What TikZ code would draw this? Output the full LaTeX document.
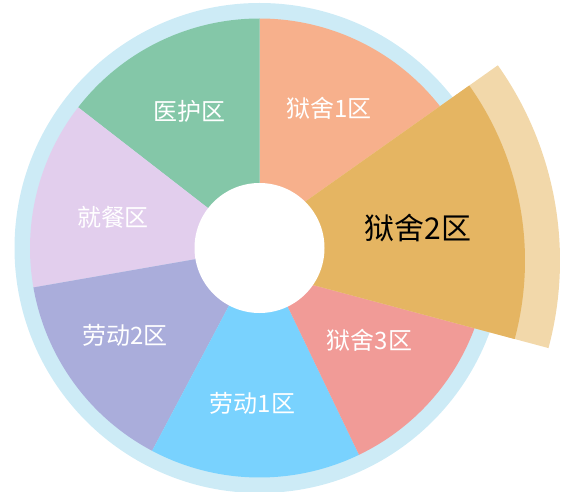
\documentclass[tikz,border=0pt]{standalone}
\usepackage{fontspec}
\newfontfamily\cjk{Noto Sans CJK SC}
\definecolor{ringc}{HTML}{CDEBF6}
\definecolor{cyh}{HTML}{84C7A8}
\definecolor{cys1}{HTML}{F7B08C}
\definecolor{cys2}{HTML}{E5B562}
\definecolor{cband}{HTML}{F2D8AA}
\definecolor{cys3}{HTML}{F19B97}
\definecolor{cld1}{HTML}{79D2FE}
\definecolor{cld2}{HTML}{AAADDB}
\definecolor{cjc}{HTML}{E2CEED}
\tikzset{
  lab/.style={font=\cjk\fontsize{24}{24}\selectfont, text=white, inner sep=0pt},
  hilab/.style={font=\cjk\fontsize{30}{30}\selectfont, text=black, inner sep=0pt}
}
\newcommand{\pieslice}[3]{\fill[#3] (C) -- ++(#1:229.5pt) arc[start angle=#1, end angle=#2, radius=229.5pt] -- cycle;}
\begin{document}
\begin{tikzpicture}[x=1pt,y=1pt]
\useasboundingbox (0,0) rectangle (571,491);
\coordinate (C) at (259.5,243);
\coordinate (A) at (222,230.4);
% background ring
\fill[ringc] (C) circle[radius=245pt];
% slices
\pieslice{37.1}{90}{cys1}
\pieslice{90}{142.2}{cyh}
\pieslice{142.2}{189.9}{cjc}
\pieslice{189.9}{242.1}{cld2}
\pieslice{242.1}{295.7}{cld1}
\pieslice{295.7}{340.5}{cys3}
\pieslice{340.5}{397.1}{cys2}
% highlighted slice
\fill[cband] (A) -- ++(-15:338pt) arc[start angle=-15, end angle=35.3, radius=338pt] -- cycle;
\fill[cys2] (A) -- ++(-15:303pt) arc[start angle=-15, end angle=35.3, radius=303pt] -- cycle;
% hole
\fill[white] (C) circle[radius=65pt];
% labels
\node[lab] (yh) at (189,380) {医护区};
\node[lab] (ys1) at (328.7,382.3) {狱舍1区};
\node[hilab] (ys2) at (418,262.7) {狱舍2区};
\node[lab] (ys3) at (369.5,151) {狱舍3区};
\node[lab] (ld1) at (252.5,88) {劳动1区};
\node[lab] (ld2) at (124.7,156) {劳动2区};
\node[lab] (jc) at (113,274) {就餐区};
\end{tikzpicture}
\end{document}
